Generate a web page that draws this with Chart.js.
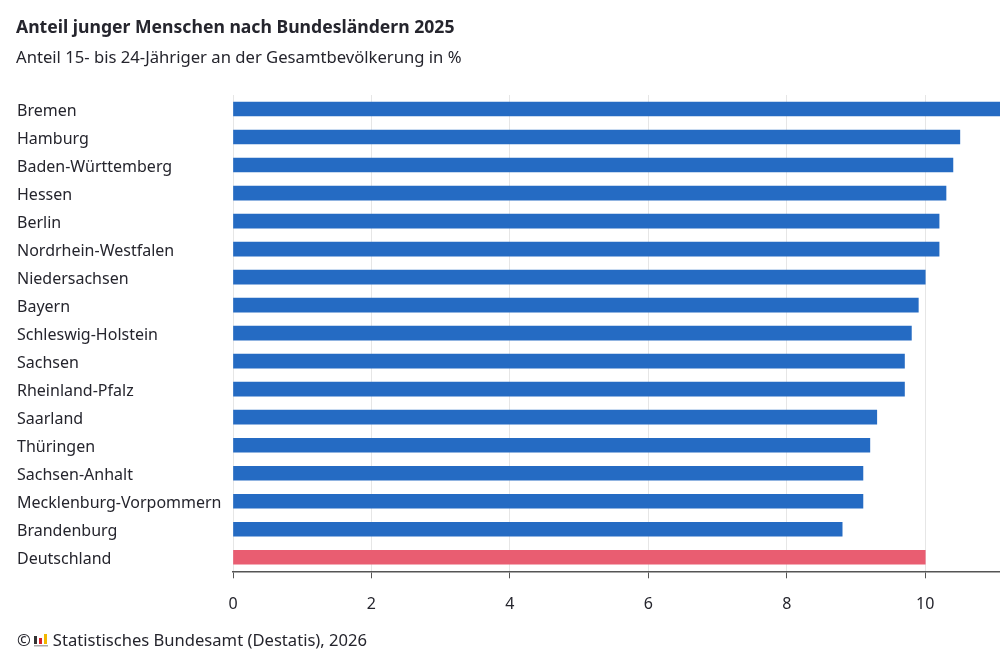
<!DOCTYPE html>
<html lang="de">
<head>
<meta charset="utf-8">
<title>Anteil junger Menschen nach Bundesländern 2025</title>
<script src="https://cdn.jsdelivr.net/npm/chart.js@4"></script>
<style>
    html, body { margin: 0; padding: 0; background: #fff; }
    body { width: 1000px; height: 657px; position: relative; overflow: hidden; font-family: "Noto Sans", sans-serif; color: #25252d; }
    #wrap { position: absolute; left: 0; top: 0; width: 1000px; height: 657px; }
    .txt { position: absolute; left: 16px; white-space: nowrap; }
    #head { top: 14px; font-size: 17.6px; font-weight: 700; }
    #sub { top: 45px; font-size: 16.65px; }
    #foot { top: 628px; left: 17px; font-size: 16.6px; display: flex; align-items: center; }
    #foot svg { margin: 0 5px 0 3px; }
</style>
</head>
<body>
<div id="wrap"><canvas id="share-chart"></canvas></div>
<div class="txt" id="head">Anteil junger Menschen nach Bundesländern 2025</div>
<div class="txt" id="sub">Anteil 15- bis 24-Jähriger an der Gesamtbevölkerung in %</div>
<div class="txt" id="foot">©<svg width="14" height="14" viewBox="0 0 14 14"><rect x="0" y="3" width="3" height="8" fill="#333"/><rect x="5" y="5" width="3" height="6" fill="#d8232a"/><rect x="10" y="1" width="3" height="10" fill="#f2b800"/><rect x="0" y="12" width="14" height="1.5" fill="#aaa"/></svg>Statistisches Bundesamt (Destatis), 2026</div>
<script>
    const categories = ['Bremen', 'Hamburg', 'Baden-Württemberg', 'Hessen', 'Berlin', 'Nordrhein-Westfalen', 'Niedersachsen', 'Bayern', 'Schleswig-Holstein', 'Sachsen', 'Rheinland-Pfalz', 'Saarland', 'Thüringen', 'Sachsen-Anhalt', 'Mecklenburg-Vorpommern', 'Brandenburg', 'Deutschland'];
    const shares = [11.2, 10.5, 10.4, 10.3, 10.2, 10.2, 10.0, 9.9, 9.8, 9.7, 9.7, 9.3, 9.2, 9.1, 9.1, 8.8, 10.0];
    const blue = '#256bc3';
    const red = '#e95d71';
    const barColors = categories.map(function (c) { return c === 'Deutschland' ? red : blue; });

    new Chart(document.getElementById('share-chart'), {
        type: 'bar',
        data: {
            labels: categories,
            datasets: [{
                data: shares,
                backgroundColor: barColors,
                barThickness: 14
            }]
        },
        options: {
            indexAxis: 'y',
            responsive: true,
            maintainAspectRatio: false,
            animation: false,
            layout: { padding: { top: 95, bottom: 25.5, left: 17, right: 0 } },
            plugins: { legend: { display: false }, tooltip: { enabled: false } },
            scales: {
                x: {
                    min: 0,
                    max: 11.08,
                    grid: { color: '#e6e6e6', lineWidth: 1, tickColor: '#555', tickLength: 7 },
                    border: { color: '#555', width: 1.5 },
                    ticks: {
                        stepSize: 2,
                        includeBounds: false,
                        maxRotation: 0,
                        padding: 17,
                        color: '#25252d',
                        font: { family: '"Noto Sans"', size: 16 }
                    }
                },
                y: {
                    afterFit: function (scale) { scale.width = 216; },
                    grid: { display: false },
                    border: { display: false },
                    ticks: {
                        autoSkip: false,
                        crossAlign: 'far',
                        padding: 10,
                        labelOffset: 2,
                        color: '#25252d',
                        font: { family: '"Noto Sans"', size: 16 }
                    }
                }
            }
        }
    });
</script>
</body>
</html>
